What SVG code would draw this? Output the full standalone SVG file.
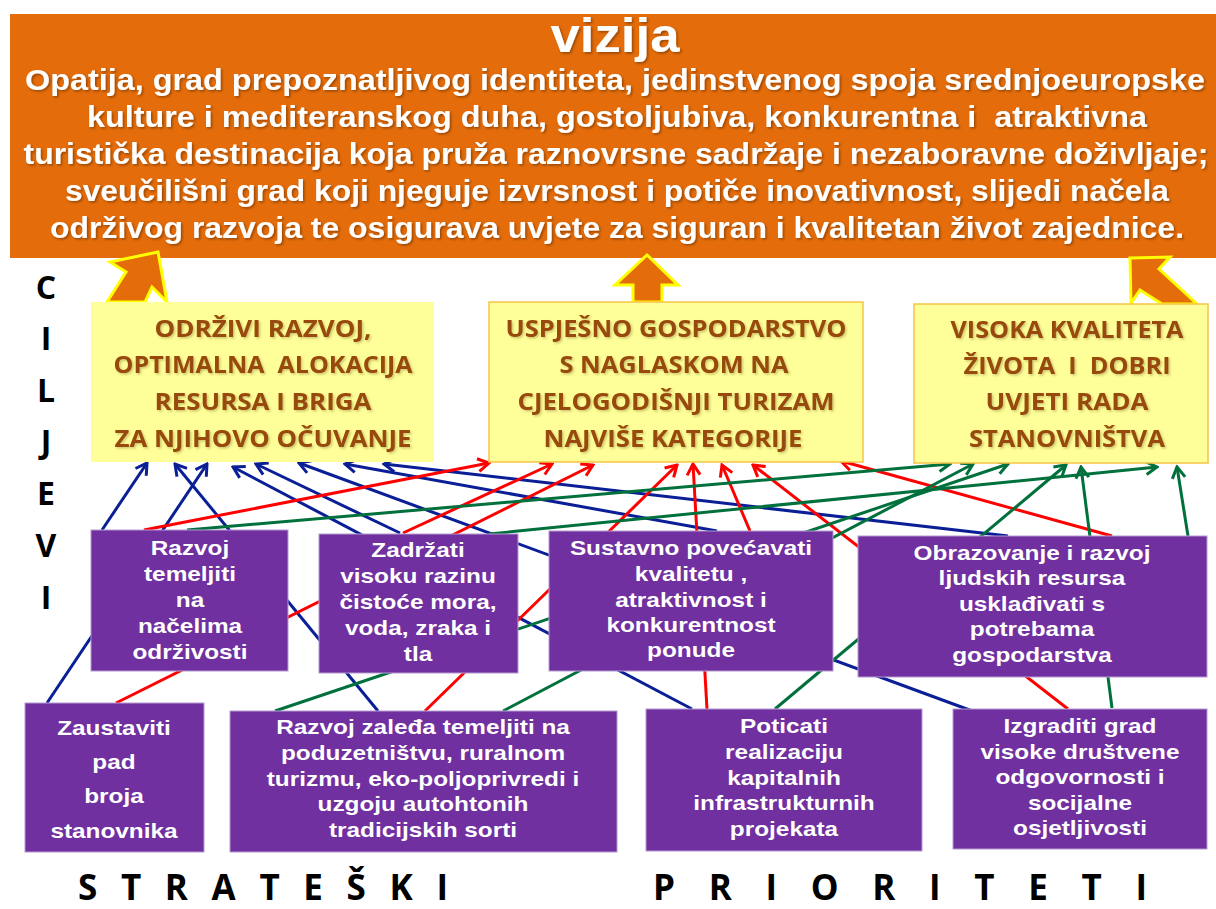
<svg xmlns="http://www.w3.org/2000/svg" width="1216" height="909" viewBox="0 0 1216 909">
<defs>
<style>
.hd{font-family:"Liberation Sans",Arial,sans-serif;font-weight:bold;fill:#fff;text-anchor:middle}
.gl{font-family:"Open Sans","Liberation Sans",sans-serif;font-weight:bold;font-size:24px;fill:#984807;text-anchor:middle}
.pr{font-family:"Liberation Sans",Arial,sans-serif;font-weight:bold;font-size:21px;fill:#fff;text-anchor:middle}
.side{font-family:"Open Sans","Liberation Sans",sans-serif;font-weight:bold;fill:#000}
.pbox{fill:#7030A0;stroke:#B49AD0;stroke-width:1}
.ybox{fill:#FFFF99}
.bigarrow{fill:#E46C0A;stroke:#FFFF00;stroke-width:3;stroke-linejoin:miter}
.b{stroke:#0A1E96;stroke-width:3;fill:none;marker-end:url(#mb)}
.r{stroke:#FF0000;stroke-width:3;fill:none;marker-end:url(#mr)}
.g{stroke:#00703C;stroke-width:3;fill:none;marker-end:url(#mg)}
</style>
<filter id="sh" x="-10%" y="-30%" width="120%" height="160%"><feDropShadow dx="1.5" dy="1.5" stdDeviation="1" flood-color="#000" flood-opacity="0.35"/></filter>
<filter id="shy" x="-10%" y="-30%" width="120%" height="160%"><feDropShadow dx="1.5" dy="1.5" stdDeviation="1" flood-color="#6b5a20" flood-opacity="0.35"/></filter>
<marker id="mb" markerUnits="userSpaceOnUse" viewBox="-14 -10 16 20" markerWidth="16" markerHeight="20" refX="0" refY="0" orient="auto"><path d="M-11,-6.5 L0,0 L-11,6.5" fill="none" stroke="#0A1E96" stroke-width="3"/></marker>
<marker id="mr" markerUnits="userSpaceOnUse" viewBox="-14 -10 16 20" markerWidth="16" markerHeight="20" refX="0" refY="0" orient="auto"><path d="M-11,-6.5 L0,0 L-11,6.5" fill="none" stroke="#FF0000" stroke-width="3"/></marker>
<marker id="mg" markerUnits="userSpaceOnUse" viewBox="-14 -10 16 20" markerWidth="16" markerHeight="20" refX="0" refY="0" orient="auto"><path d="M-11,-6.5 L0,0 L-11,6.5" fill="none" stroke="#00703C" stroke-width="3"/></marker>
</defs>
<rect width="1216" height="909" fill="#fff"/>

<g id="vizija">
<rect x="10" y="14" width="1206" height="244" fill="#E46C0A"/>
<text class="hd" x="615" y="52" font-size="49" textLength="129" lengthAdjust="spacingAndGlyphs" filter="url(#sh)">vizija</text>
<g filter="url(#sh)">
<text class="hd" x="615" y="90" font-size="29" textLength="1180" lengthAdjust="spacingAndGlyphs">Opatija, grad prepoznatljivog identiteta, jedinstvenog spoja srednjoeuropske</text>
<text class="hd" x="617" y="127" font-size="29" textLength="1060" lengthAdjust="spacingAndGlyphs" xml:space="preserve">kulture i mediteranskog duha, gostoljubiva, konkurentna i  atraktivna</text>
<text class="hd" x="616" y="164" font-size="29" textLength="1185" lengthAdjust="spacingAndGlyphs">turistička destinacija koja pruža raznovrsne sadržaje i nezaboravne doživljaje;</text>
<text class="hd" x="617" y="201" font-size="29" textLength="1104" lengthAdjust="spacingAndGlyphs">sveučilišni grad koji njeguje izvrsnost i potiče inovativnost, slijedi načela</text>
<text class="hd" x="617" y="238" font-size="29" textLength="1134" lengthAdjust="spacingAndGlyphs">održivog razvoja te osigurava uvjete za siguran i kvalitetan život zajednice.</text>
</g>
</g>

<g id="vision-arrows">
<polygon class="bigarrow" points="158,252 110,262 126,272 107,302 145,302 152,287 167,302"/>
<polygon class="bigarrow" points="647,255 678,285 662,285 662,302 633,302 633,285 615,285"/>
<polygon class="bigarrow" points="1130,258 1170,257 1159,269 1197,304 1162,304 1140,290 1131,303"/>
</g>

<g id="ciljevi-label">
<text class="side" font-size="32" text-anchor="middle" x="46 46 46 46 46 46 46" y="299 350 402 453 505 557 609">CILJEVI</text>
</g>

<g id="connectors">
<line class="b" x1="102" y1="530" x2="147" y2="463"/>
<line class="b" x1="378" y1="711" x2="175" y2="464"/>
<line class="b" x1="47" y1="703" x2="207" y2="464"/>
<line class="b" x1="692" y1="709" x2="233" y2="467"/>
<line class="b" x1="400" y1="533" x2="256" y2="464"/>
<line class="b" x1="975" y1="712" x2="299" y2="463"/>
<line class="b" x1="717" y1="531" x2="345" y2="464"/>
<line class="b" x1="1008" y1="536" x2="384" y2="464"/>
<line class="r" x1="144" y1="530" x2="489" y2="463"/>
<line class="r" x1="403" y1="533" x2="552" y2="464"/>
<line class="r" x1="116" y1="703" x2="593" y2="465"/>
<line class="r" x1="425" y1="711" x2="677" y2="465"/>
<line class="r" x1="707" y1="709" x2="693" y2="464"/>
<line class="r" x1="750" y1="531" x2="722" y2="465"/>
<line class="r" x1="1068" y1="709" x2="753" y2="465"/>
<line class="r" x1="1112" y1="536" x2="841" y2="461"/>
<line class="g" x1="187" y1="530" x2="950" y2="464"/>
<line class="g" x1="503" y1="711" x2="973" y2="464"/>
<line class="g" x1="275" y1="711" x2="1008" y2="464"/>
<line class="g" x1="775" y1="709" x2="1066" y2="465"/>
<line class="g" x1="1112" y1="708" x2="1081" y2="467"/>
<line class="g" x1="489" y1="534" x2="1157" y2="467"/>
<line class="g" x1="1188" y1="536" x2="1177" y2="467"/>
</g>

<g id="cilj1">
<rect class="ybox" x="91" y="302" width="343" height="160"/>
<g filter="url(#shy)">
<text class="gl" x="263" y="337" textLength="217" lengthAdjust="spacingAndGlyphs">ODRŽIVI RAZVOJ,</text>
<text class="gl" x="263" y="373" textLength="299" lengthAdjust="spacingAndGlyphs" xml:space="preserve">OPTIMALNA  ALOKACIJA</text>
<text class="gl" x="263" y="410" textLength="217" lengthAdjust="spacingAndGlyphs">RESURSA I BRIGA</text>
<text class="gl" x="263" y="447" textLength="297" lengthAdjust="spacingAndGlyphs">ZA NJIHOVO OČUVANJE</text>
</g>
</g>
<g id="cilj2">
<rect class="ybox" x="489" y="302" width="374" height="160" stroke="#F6C446" stroke-width="1.5"/>
<g filter="url(#shy)">
<text class="gl" x="676" y="337" textLength="341" lengthAdjust="spacingAndGlyphs">USPJEŠNO GOSPODARSTVO</text>
<text class="gl" x="674" y="373" textLength="229" lengthAdjust="spacingAndGlyphs">S NAGLASKOM NA</text>
<text class="gl" x="676" y="410" textLength="317" lengthAdjust="spacingAndGlyphs">CJELOGODIŠNJI TURIZAM</text>
<text class="gl" x="673" y="447" textLength="259" lengthAdjust="spacingAndGlyphs">NAJVIŠE KATEGORIJE</text>
</g>
</g>
<g id="cilj3">
<rect class="ybox" x="914" y="304" width="294" height="159" stroke="#F6C446" stroke-width="1.5"/>
<g filter="url(#shy)">
<text class="gl" x="1067" y="338" textLength="233" lengthAdjust="spacingAndGlyphs">VISOKA KVALITETA</text>
<text class="gl" x="1067" y="374" textLength="207" lengthAdjust="spacingAndGlyphs" xml:space="preserve">ŽIVOTA  I  DOBRI</text>
<text class="gl" x="1067" y="410" textLength="163" lengthAdjust="spacingAndGlyphs">UVJETI RADA</text>
<text class="gl" x="1067" y="447" textLength="196" lengthAdjust="spacingAndGlyphs">STANOVNIŠTVA</text>
</g>
</g>

<g id="p1">
<rect class="pbox" x="91" y="530" width="197" height="141"/>
<g transform="translate(190,0) scale(1.16,1)">
<text class="pr" x="0" y="555">Razvoj</text>
<text class="pr" x="0" y="581">temeljiti</text>
<text class="pr" x="0" y="607">na</text>
<text class="pr" x="0" y="633">načelima</text>
<text class="pr" x="0" y="659">održivosti</text>
</g>
</g>
<g id="p2">
<rect class="pbox" x="319" y="534" width="199" height="139"/>
<g transform="translate(418,0) scale(1.16,1)">
<text class="pr" x="0" y="557">Zadržati</text>
<text class="pr" x="0" y="583">visoku razinu</text>
<text class="pr" x="0" y="609">čistoće mora,</text>
<text class="pr" x="0" y="635">voda, zraka i</text>
<text class="pr" x="0" y="661">tla</text>
</g>
</g>
<g id="p3">
<rect class="pbox" x="549" y="531" width="284" height="140"/>
<g transform="translate(691,0) scale(1.16,1)">
<text class="pr" x="0" y="555">Sustavno povećavati</text>
<text class="pr" x="0" y="581">kvalitetu ,</text>
<text class="pr" x="0" y="607">atraktivnost i</text>
<text class="pr" x="0" y="632">konkurentnost</text>
<text class="pr" x="0" y="657">ponude</text>
</g>
</g>
<g id="p4">
<rect class="pbox" x="858" y="536" width="349" height="141"/>
<g transform="translate(1032,0) scale(1.16,1)">
<text class="pr" x="0" y="560">Obrazovanje i razvoj</text>
<text class="pr" x="0" y="585.5">ljudskih resursa</text>
<text class="pr" x="0" y="611">usklađivati s</text>
<text class="pr" x="0" y="636.5">potrebama</text>
<text class="pr" x="0" y="662">gospodarstva</text>
</g>
</g>
<g id="q1">
<rect class="pbox" x="25" y="703" width="179" height="149"/>
<g transform="translate(114,0) scale(1.16,1)">
<text class="pr" x="0" y="735">Zaustaviti</text>
<text class="pr" x="0" y="769">pad</text>
<text class="pr" x="0" y="803">broja</text>
<text class="pr" x="0" y="838">stanovnika</text>
</g>
</g>
<g id="q2">
<rect class="pbox" x="230" y="711" width="387" height="141"/>
<g transform="translate(423,0) scale(1.16,1)">
<text class="pr" x="0" y="734">Razvoj zaleđa temeljiti na</text>
<text class="pr" x="0" y="760">poduzetništvu, ruralnom</text>
<text class="pr" x="0" y="786">turizmu, eko-poljoprivredi i</text>
<text class="pr" x="0" y="811.5">uzgoju autohtonih</text>
<text class="pr" x="0" y="837">tradicijskih sorti</text>
</g>
</g>
<g id="q3">
<rect class="pbox" x="646" y="709" width="276" height="142"/>
<g transform="translate(784,0) scale(1.16,1)">
<text class="pr" x="0" y="733">Poticati</text>
<text class="pr" x="0" y="759">realizaciju</text>
<text class="pr" x="0" y="785">kapitalnih</text>
<text class="pr" x="0" y="810.5">infrastrukturnih</text>
<text class="pr" x="0" y="836">projekata</text>
</g>
</g>
<g id="q4">
<rect class="pbox" x="953" y="709" width="254" height="140"/>
<g transform="translate(1080,0) scale(1.16,1)">
<text class="pr" x="0" y="733">Izgraditi grad</text>
<text class="pr" x="0" y="759">visoke društvene</text>
<text class="pr" x="0" y="784.5">odgovornosti i</text>
<text class="pr" x="0" y="810">socijalne</text>
<text class="pr" x="0" y="835.5">osjetljivosti</text>
</g>
</g>

<g id="prioriteti-label">
<text class="side" font-size="35" x="78" y="900" textLength="370" lengthAdjust="spacing">S T R A T E Š K I</text>
<text class="side" font-size="35" x="653" y="900" textLength="494" lengthAdjust="spacing">P R I O R I T E T I</text>
</g>
</svg>
